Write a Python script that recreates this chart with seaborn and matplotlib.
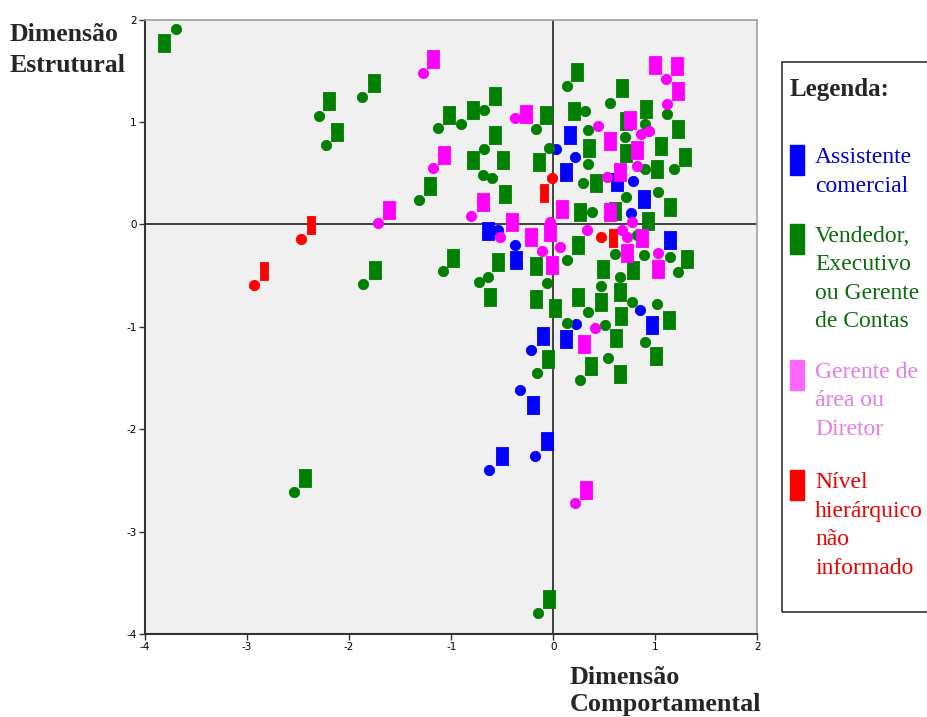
"""Mapa de posicionamento: Dimensão Comportamental x Dimensão Estrutural.
"""

import numpy as np
import pandas as pd
import matplotlib
matplotlib.use('Agg')
import matplotlib.pyplot as plt
import seaborn as sns
from matplotlib.patches import Rectangle


# Assistente comercial (azul)
blue_cx = [0.03, 0.21, 0.78, 0.76, -0.54, -0.38, -0.22, 0.22, 0.85, -0.33, -0.18, -0.63]
blue_cy = [0.74, 0.66, 0.42, 0.11, -0.06, -0.20, -1.23, -0.97, -0.84, -1.62, -2.26, -2.40]
blue_rx = [0.16, 0.12, 0.62, 0.89, 1.14, -0.64, -0.37, -0.10, 0.12, 0.97, -0.20, -0.06, -0.50]
blue_ry = [0.87, 0.51, 0.41, 0.25, -0.15, -0.07, -0.35, -1.09, -1.12, -0.98, -1.76, -2.12, -2.26]

# Vendedor, Executivo ou Gerente de Contas (verde)
green_cx = [-3.70, -1.87, -2.30, -2.23, -1.13, -1.32, -1.86, -1.08, -2.54, -0.90,
            -0.68, -0.17, -0.68, -0.04, 0.13, 0.56, 0.31, 1.11, 0.34, 0.70,
            0.90, 0.34, 0.90, 1.18, -0.69, -0.60, 0.29, 0.71, 1.03, 0.38,
            0.82, 0.60, 0.89, 1.14, 0.13, 0.65, 1.22, -0.73, -0.64, -0.06,
            0.47, 0.77, 0.34, 0.13, 0.51, 1.02, 0.90, 0.54, 0.26, -0.16, -0.15]
green_cy = [1.91, 1.24, 1.06, 0.77, 0.94, 0.24, -0.58, -0.46, -2.61, 0.98,
            1.12, 0.93, 0.74, 0.75, 1.35, 1.18, 1.11, 1.08, 0.92, 0.85,
            0.98, 0.59, 0.54, 0.54, 0.48, 0.45, 0.40, 0.27, 0.32, 0.12,
            -0.10, -0.29, -0.30, -0.32, -0.35, -0.51, -0.47, -0.56, -0.51, -0.57,
            -0.60, -0.76, -0.86, -0.96, -0.98, -0.78, -1.15, -1.31, -1.52, -1.45, -3.80]
green_rx = [-3.81, -2.20, -2.12, -1.76, -1.02, -0.79, -0.57, -0.07, -0.57, -1.21,
            -0.79, -0.49, -0.14, -0.47, -0.98, -0.54, -0.17, -1.75, -0.62, -0.17,
            0.02, -2.43, 0.23, 0.67, 0.20, 0.91, 0.71, 1.22, 0.35, 1.06,
            1.29, 0.71, 1.02, 0.42, 1.14, 0.26, 0.60, 0.93, 0.24, 1.31,
            0.49, 0.78, 0.65, 0.24, 0.47, 0.66, 1.13, 0.61, 0.37, 0.65,
            1.01, -0.05, -0.04]
green_ry = [1.77, 1.20, 0.90, 1.38, 1.07, 1.12, 1.25, 1.07, 0.87, 0.37,
            0.63, 0.63, 0.61, 0.30, -0.33, -0.37, -0.41, -0.45, -0.71, -0.73,
            -0.82, -2.48, 1.49, 1.33, 1.11, 1.13, 1.01, 0.93, 0.75, 0.76,
            0.66, 0.70, 0.54, 0.40, 0.17, 0.12, 0.13, 0.03, -0.20, -0.34,
            -0.44, -0.45, -0.66, -0.71, -0.76, -0.90, -0.93, -1.11, -1.38, -1.46,
            -1.29, -1.32, -3.66]

# Gerente de área ou Diretor (rosa)
pink_cx = [-1.28, -0.38, -1.18, -0.81, -1.72, -0.52, -0.03, -0.11, 0.07, 0.44,
           0.86, 0.94, 1.10, 1.11, 0.53, 0.82, 0.77, 0.33, 0.67, 0.72,
           1.03, 0.41, 0.21]
pink_cy = [1.48, 1.04, 0.55, 0.08, 0.01, -0.12, 0.02, -0.26, -0.22, 0.96,
           0.88, 0.91, 1.42, 1.17, 0.46, 0.57, 0.02, -0.06, -0.06, -0.12,
           -0.28, -1.01, -2.72]
pink_rx = [-1.18, -0.27, -1.07, -0.69, -1.61, -0.40, -0.22, -0.03, -0.01, 1.00,
           1.21, 1.22, 0.75, 0.56, 0.82, 0.65, 0.09, 0.56, 0.87, 0.72,
           1.03, 0.30, 0.32]
pink_ry = [1.61, 1.08, 0.68, 0.22, 0.14, 0.02, -0.12, -0.08, -0.40, 1.56,
           1.55, 1.30, 1.02, 0.81, 0.73, 0.51, 0.15, 0.12, -0.13, -0.28,
           -0.44, -1.17, -2.59]

# Nível hierárquico não informado (vermelho)
red_cx = [-0.01, 0.47, -2.47, -2.93]
red_cy = [0.45, -0.12, -0.14, -0.59]
red_rx = [-0.09, 0.58, -2.37, -2.83]
red_ry = [0.31, -0.13, -0.01, -0.46]

ticks = [-4, -3, -2, -1, 0, 1, 2]

groups = {
    'blue': (blue_cx, blue_cy, blue_rx, blue_ry, '#0000FF'),
    'green': (green_cx, green_cy, green_rx, green_ry, '#007F00'),
    'pink': (pink_cx, pink_cy, pink_rx, pink_ry, '#FF00FF'),
    'red': (red_cx, red_cy, red_rx, red_ry, '#FF0000'),
}

# rectangle markers (tall blocks), red ones a bit narrower
rect_wide = [(-0.3, -0.5), (0.3, -0.5), (0.3, 0.5), (-0.3, 0.5), (-0.3, -0.5)]
rect_thin = [(-0.22, -0.5), (0.22, -0.5), (0.22, 0.5), (-0.22, 0.5), (-0.22, -0.5)]

sns.set_style('white')

fig = plt.figure(figsize=(9.27, 7.17), dpi=100)
ax = fig.add_axes([0.1564, 0.1159, 0.6607, 0.8569])
ax.set_facecolor('#F0F0F0')

ax.axhline(0, color='#404040', lw=1.4, zorder=1)
ax.axvline(0, color='#404040', lw=1.4, zorder=1)

for name, (cx, cy, rx, ry, col) in groups.items():
    circ = pd.DataFrame({'x': cx, 'y': cy})
    rect = pd.DataFrame({'x': rx, 'y': ry})
    mk = rect_thin if name == 'red' else rect_wide
    sns.scatterplot(data=rect, x='x', y='y', ax=ax, marker=mk, s=175,
                    color=col, edgecolor=col, linewidth=0.6, zorder=3, legend=False)
    sns.scatterplot(data=circ, x='x', y='y', ax=ax, marker='o', s=55,
                    color=col, edgecolor=col, linewidth=0.6, zorder=3, legend=False)

ax.set_xlim(-4, 2)
ax.set_ylim(-4, 2)
ax.set_xticks(ticks)
ax.set_yticks(ticks)
ax.set_xticklabels([str(t) for t in ticks])
ax.set_yticklabels([str(t) for t in ticks])
ax.tick_params(direction='out', length=4, width=1, labelsize=7.5, pad=2,
               bottom=True, left=True, colors='#333333', labelcolor='black')
ax.set_xlabel('')
ax.set_ylabel('')

for side in ['left', 'bottom']:
    ax.spines[side].set_color('#333333')
    ax.spines[side].set_linewidth(1.5)
for side in ['top', 'right']:
    ax.spines[side].set_color('#A0A0A0')
    ax.spines[side].set_linewidth(1.2)

W, H = 927.0, 717.0

def fx(px):
    return px / W

def fy(py):
    return 1 - py / H

serif = 'Liberation Serif'

fig.text(fx(10), fy(41), 'Dimensão', family=serif, weight='bold', fontsize=18.5, va='baseline')
fig.text(fx(10), fy(72), 'Estrutural', family=serif, weight='bold', fontsize=18.5, va='baseline')
fig.text(fx(570), fy(684), 'Dimensão', family=serif, weight='bold', fontsize=18.8, va='baseline')
fig.text(fx(570), fy(711), 'Comportamental', family=serif, weight='bold', fontsize=18.8, va='baseline')

# legend box
fig.patches.append(Rectangle((fx(782), fy(612)), fx(950) - fx(782), fy(62) - fy(612),
                             transform=fig.transFigure, fill=False, edgecolor='#333333', lw=1.2))
fig.text(fx(790), fy(96), 'Legenda:', family=serif, weight='bold', fontsize=18, va='baseline')

legend_items = [
    ('#0000FF', '#0000CD', ['Assistente', 'comercial'], 145),
    ('#007F00', '#0B6B0B', ['Vendedor,', 'Executivo', 'ou Gerente', 'de Contas'], 224),
    ('#FF66FF', '#E67DE6', ['Gerente de', 'área ou', 'Diretor'], 360),
    ('#FF0000', '#EE0000', ['Nível', 'hierárquico', 'não', 'informado'], 470),
]
for box_col, txt_col, lines, top in legend_items:
    fig.patches.append(Rectangle((fx(790), fy(top + 30)), fx(14), fy(0) - fy(30),
                                 transform=fig.transFigure, color=box_col))
    for i, line in enumerate(lines):
        fig.text(fx(815), fy(top + 18 + i * 28.5), line, family=serif, fontsize=17,
                 color=txt_col, va='baseline')

fig.savefig('out.png', dpi=100, facecolor='white')
